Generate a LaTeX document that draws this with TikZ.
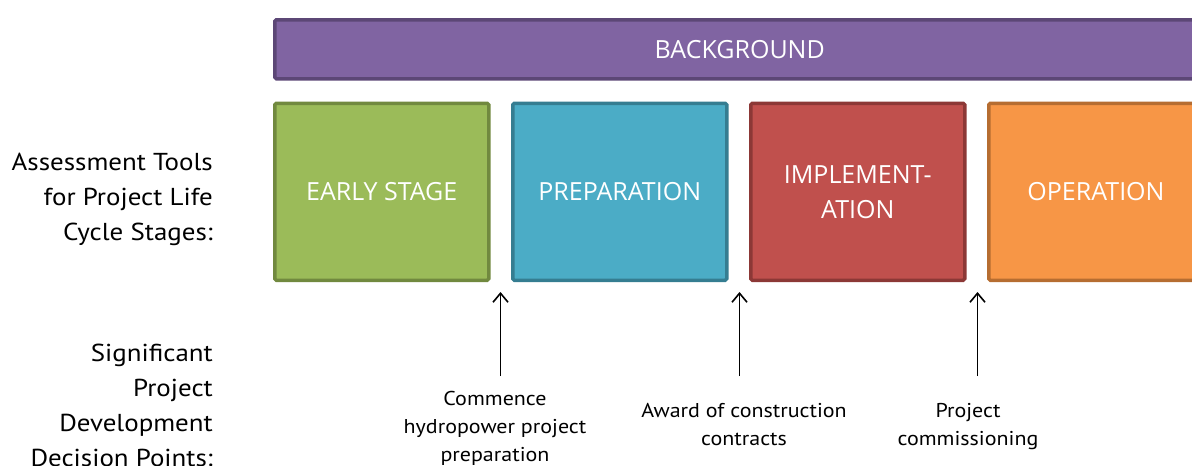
\documentclass[tikz,border=0pt]{standalone}
\usepackage{fontspec}
\setmainfont[FakeStretch=1.1]{PT Sans}
\newfontfamily\boxfont{Open Sans}
\usetikzlibrary{arrows.meta}
\definecolor{purpleF}{HTML}{8064A2}\definecolor{purpleD}{HTML}{5C4776}
\definecolor{greenF}{HTML}{9BBB59}\definecolor{greenD}{HTML}{71893F}
\definecolor{blueF}{HTML}{4BACC6}\definecolor{blueD}{HTML}{357D91}
\definecolor{redF}{HTML}{C0504D}\definecolor{redD}{HTML}{8C3836}
\definecolor{orangeF}{HTML}{F79646}\definecolor{orangeD}{HTML}{B66D31}
\tikzset{
  stagebox/.style={draw=#1D, fill=#1F, line width=3.5pt, rounded corners=1.5pt,
    minimum width=214pt, minimum height=177pt, anchor=north west,
    text=white, align=center, inner sep=0pt,
    font=\boxfont\fontsize{25}{35}\selectfont},
  sidelabel/.style={anchor=east, align=right, inner sep=0pt, font=\fontsize{24.5}{35}\selectfont},
  ptlabel/.style={anchor=north, align=center, inner sep=0pt, font=\fontsize{20}{28}\selectfont},
  uparrow/.style={-{Straight Barb[length=9pt,width=15pt,line width=1.6pt]}, line width=1.6pt}
}
\begin{document}
\begin{tikzpicture}[x=1pt,y=-1pt]
\useasboundingbox (0,0) rectangle (1192,466);
\node[stagebox=purple, minimum width=930pt, minimum height=59pt] (bg) at (273,18) {BACKGROUND};
\node[stagebox=green] (early) at (273,101.5) {EARLY STAGE};
\node[stagebox=blue] (prep) at (511,101.5) {PREPARATION};
\node[stagebox=red] (impl) at (749,101.5) {IMPLEMENT-\\ATION};
\node[stagebox=orange, minimum width=240pt] (oper) at (987,101.5) {};
\node[text=white, font=\boxfont\fontsize{25}{35}\selectfont, inner sep=0pt] (opertext) at (1096,192) {OPERATION};
\node[sidelabel] (tools) at (213,199) {Assessment Tools\\for Project Life\\Cycle Stages:};
\node[sidelabel, anchor=north east] (sig) at (213,344) {Significant\\Project\\Development\\Decision Points:};
\coordinate (a1) at (500.5,376);
\coordinate (a2) at (739.5,376);
\coordinate (a3) at (977.5,376);
\coordinate (t1) at (500.5,292);
\coordinate (t2) at (739.5,292);
\coordinate (t3) at (977.5,292);
\draw[uparrow] (a1) -- (t1);
\draw[uparrow] (a2) -- (t2);
\draw[uparrow] (a3) -- (t3);
\node[ptlabel] (l1) at (495,391) {Commence\\hydropower project\\preparation};
\node[ptlabel] (l2) at (744,403) {Award of construction\\contracts};
\node[ptlabel] (l3) at (968,403) {Project\\commissioning};
\end{tikzpicture}
\end{document}
